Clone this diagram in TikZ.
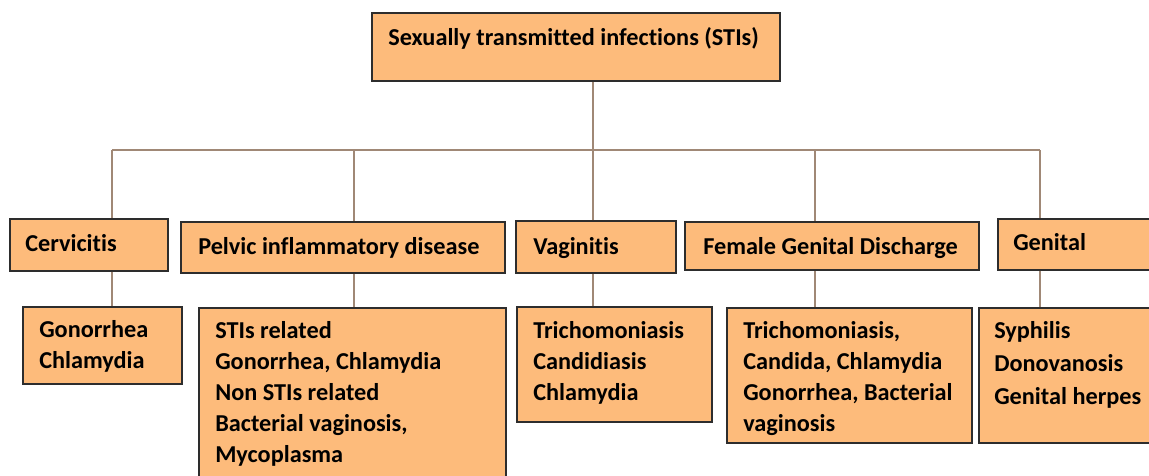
\documentclass[tikz,border=0pt]{standalone}
\usepackage{fontspec}
\setmainfont[Ligatures=NoCommon]{Carlito}
\newcommand{\ml}[1]{\begin{tabular}[t]{@{}l@{}}#1\end{tabular}}
\definecolor{boxfill}{RGB}{253,187,123}
\definecolor{boxline}{RGB}{45,45,45}
\definecolor{conn}{RGB}{160,136,118}
\tikzset{
  box/.style={draw=boxline, fill=boxfill, line width=1.2pt},
  txt/.style={anchor=base west, inner sep=0pt, font=\fontsize{18.2}{23.25}\selectfont\bfseries},
  link/.style={draw=conn, line width=0.9pt}
}
\begin{document}
\begin{tikzpicture}[x=0.75pt,y=-0.75pt]
\useasboundingbox (0,0) rectangle (1149,475);
\clip (0,0) rectangle (1149,475);
% boxes
\node[box, inner sep=0, minimum width=408*0.75pt, minimum height=68*0.75pt] (topbox) at (576,47) {};
\node[box, inner sep=0, minimum width=158*0.75pt, minimum height=52*0.75pt] (cerv) at (89,245) {};
\node[box, inner sep=0, minimum width=324*0.75pt, minimum height=51*0.75pt] (pid) at (343,247.5) {};
\node[box, inner sep=0, minimum width=160*0.75pt, minimum height=52*0.75pt] (vag) at (596,247) {};
\node[box, inner sep=0, minimum width=294*0.75pt, minimum height=48*0.75pt] (fgd) at (832,246) {};
\node[box, inner sep=0, minimum width=160*0.75pt, minimum height=51*0.75pt, anchor=north west] (gen) at (997,218) {};
\node[box, inner sep=0, minimum width=159*0.75pt, minimum height=77*0.75pt, anchor=north west] (cervS) at (22,306) {};
\node[box, inner sep=0, minimum width=307*0.75pt, minimum height=180*0.75pt, anchor=north west] (pidS) at (198,307) {};
\node[box, inner sep=0, minimum width=195*0.75pt, minimum height=115*0.75pt, anchor=north west] (vagS) at (516,306) {};
\node[box, inner sep=0, minimum width=245*0.75pt, minimum height=135*0.75pt, anchor=north west] (fgdS) at (726,307) {};
\node[box, inner sep=0, minimum width=180*0.75pt, minimum height=135*0.75pt, anchor=north west] (genS) at (978,307) {};
% texts
\node[txt] (topT) at (388,45) {Sexually transmitted infections (STIs)};
\node[txt] (cervT) at (25,251) {Cervicitis};
\node[txt] (pidT) at (198,254) {Pelvic inflammatory disease};
\node[txt] (vagT) at (533,254) {Vaginitis};
\node[txt] (fgdT) at (703,254) {Female Genital Discharge};
\node[txt] (genT) at (1013,250) {Genital};
\node[txt] (cervST) at (39,337) {\ml{Gonorrhea\\Chlamydia}};
\node[txt] (pidST) at (215,338) {\ml{STIs related\\Gonorrhea, Chlamydia\\Non STIs related\\Bacterial vaginosis,\\Mycoplasma}};
\node[txt] (vagST) at (533,338) {\ml{Trichomoniasis\\Candidiasis\\Chlamydia}};
\node[txt] (fgdST) at (743,338) {\ml{Trichomoniasis,\\Candida, Chlamydia\\Gonorrhea, Bacterial\\vaginosis}};
\node[txt] (genST) at (994,338) {\renewcommand\arraystretch{1.07}\ml{Syphilis\\Donovanosis\\Genital herpes}};
% bus
\coordinate (b0) at (593,150);
\coordinate (b1) at (112,150);
\coordinate (b2) at (354,150);
\coordinate (b3) at (593,150);
\coordinate (b4) at (815,150);
\coordinate (b5) at (1040,150);
\draw[link] (b0 |- topbox.south) -- (b0);
\draw[link] (b1) -- (b5);
\draw[link] (b1) -- (b1 |- cerv.north);
\draw[link] (b2) -- (b2 |- pid.north);
\draw[link] (b3) -- (b3 |- vag.north);
\draw[link] (b4) -- (b4 |- fgd.north);
\draw[link] (b5) -- (b5 |- gen.north);
\draw[link] (b1 |- cerv.south) -- (b1 |- cervS.north);
\draw[link] (b2 |- pid.south) -- (b2 |- pidS.north);
\draw[link] (b3 |- vag.south) -- (b3 |- vagS.north);
\draw[link] (b4 |- fgd.south) -- (b4 |- fgdS.north);
\draw[link] (b5 |- gen.south) -- (b5 |- genS.north);
\end{tikzpicture}
\end{document}
